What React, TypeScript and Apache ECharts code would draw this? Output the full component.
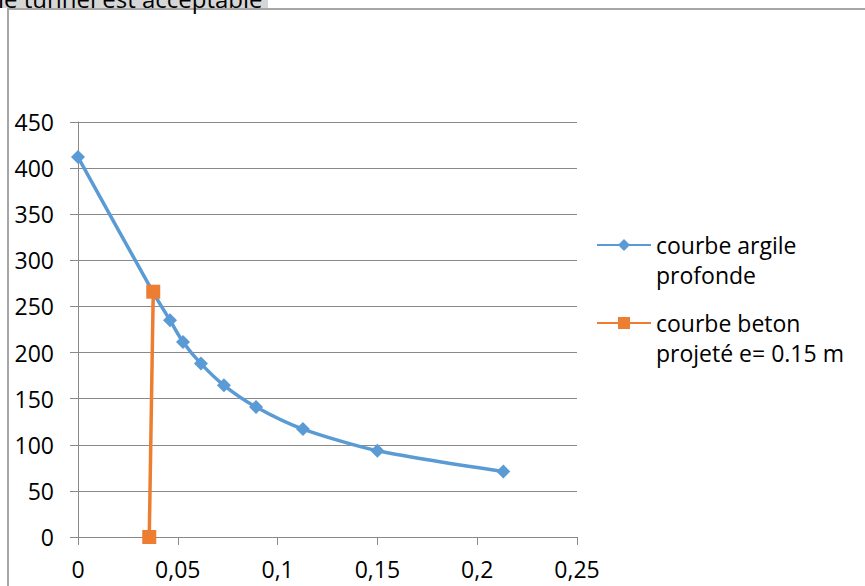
import React, { useEffect, useRef } from "react";
import * as echarts from "echarts";

const argileX = [0, 0.0377, 0.0461, 0.0526, 0.0616, 0.0731, 0.0892, 0.1127, 0.15, 0.2131];
const argileY = [412, 265, 235, 211.5, 188, 164.5, 141, 117, 93.5, 71];
const betonX = [0.0357, 0.0377];
const betonY = [0, 266];
const xTicks = ["0", "0,05", "0,1", "0,15", "0,2", "0,25"];
const seriesNames = ["courbe argile profonde", "courbe beton projeté e= 0.15 m"];
const legendLabels = ["courbe argile\nprofonde", "courbe beton\nprojeté e= 0.15 m"];
const headerText = "le tunnel est acceptable";

const FONT = "'Open Sans', 'Noto Sans', sans-serif";
const BLUE = "#5B9BD5";
const ORANGE = "#ED7D31";
const GRID = "#898989";
const FS = 23;

export default function App() {
  const ref = useRef<HTMLDivElement>(null);
  useEffect(() => {
    if (!ref.current) return;
    const chart = echarts.init(ref.current, null, { renderer: "svg" });
    const toPairs = (xs: number[], ys: number[]) => xs.map((x, i) => [x, ys[i]]);
    const legendCommon = {
      orient: "vertical" as const,
      left: 591,
      itemWidth: 54,
      itemHeight: 15,
      itemGap: 0,
      textGap: 5,
      selectedMode: false,
      formatter: (name: string) => "\n" + legendLabels[seriesNames.indexOf(name)],
      textStyle: { fontFamily: FONT, fontSize: FS, color: "#000", lineHeight: 30 },
    };
    chart.setOption({
      animation: false,
      backgroundColor: "#fff",
      textStyle: { fontFamily: FONT },
      grid: { left: 78, top: 122, right: 288, bottom: 49, containLabel: false },
      xAxis: {
        type: "value",
        min: 0,
        max: 0.25,
        interval: 0.05,
        axisLine: { show: true, lineStyle: { color: GRID, width: 1 } },
        axisTick: { show: true, length: 8, inside: false, lineStyle: { color: GRID } },
        splitLine: { show: false },
        axisLabel: {
          margin: 20,
          fontFamily: FONT,
          fontSize: FS,
          color: "#000",
          formatter: (v: number) => xTicks[Math.round(v / 0.05)],
        },
      },
      yAxis: {
        type: "value",
        min: 0,
        max: 450,
        interval: 50,
        axisLine: { show: true, lineStyle: { color: GRID, width: 1 } },
        axisTick: { show: true, length: 8, inside: false, lineStyle: { color: GRID } },
        splitLine: { show: true, lineStyle: { color: GRID, width: 1 } },
        axisLabel: { margin: 24, fontFamily: FONT, fontSize: FS, color: "#000" },
      },
      legend: [
        { ...legendCommon, top: 195, data: [seriesNames[0]] },
        { ...legendCommon, top: 273, data: [seriesNames[1]] },
      ],
      series: [
        {
          name: seriesNames[0],
          type: "line",
          data: toPairs(argileX, argileY),
          smooth: 0.25,
          symbol: "diamond",
          symbolSize: 14,
          itemStyle: { color: BLUE },
          lineStyle: { color: BLUE, width: 3.5 },
          z: 2,
        },
        {
          name: seriesNames[1],
          type: "line",
          data: toPairs(betonX, betonY),
          symbol: "rect",
          symbolSize: 14,
          itemStyle: { color: ORANGE },
          lineStyle: { color: ORANGE, width: 3.5 },
          z: 3,
        },
      ],
      graphic: [
        { type: "rect", shape: { x: 0, y: 0, width: 268, height: 8 }, style: { fill: "#d6d6d6" }, z: 10 },
        {
          type: "text",
          x: -2,
          y: -2,
          style: { text: headerText, font: `24px ${FONT}`, fill: "#000", textVerticalAlign: "middle" },
          z: 11,
        },
        {
          type: "rect",
          shape: { x: 8, y: 9, width: 1000, height: 1000 },
          style: { fill: "none", stroke: "#a6a6a6", lineWidth: 2 },
          z: 10,
        },
      ],
    });
    return () => chart.dispose();
  }, []);
  return (
    <div
      ref={ref}
      style={{ position: "fixed", left: 0, top: 0, width: 865, height: 586 }}
    />
  );
}
